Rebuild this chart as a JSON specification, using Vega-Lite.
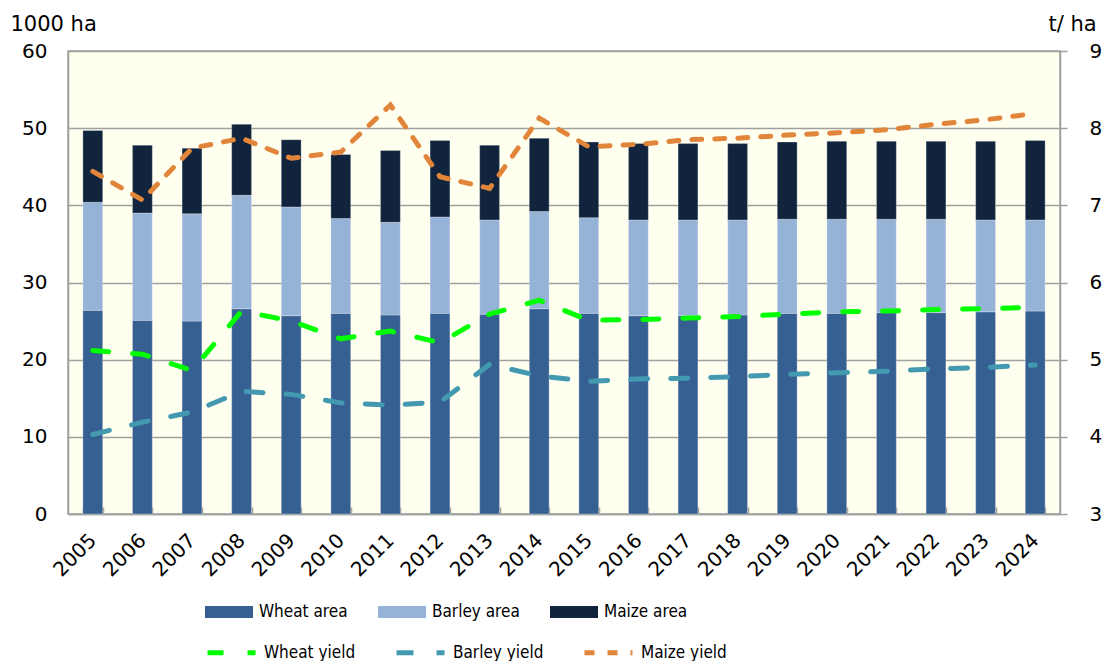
{
  "$schema": "https://vega.github.io/schema/vega-lite/v6.json",
  "width": 992,
  "height": 463,
  "autosize": {"type": "none"},
  "padding": {"left": 68, "top": 51, "right": 42, "bottom": 147},
  "background": "#FFFFFF",
  "config": {
    "view": {"fill": "#FFFFF0", "stroke": "#A0A0A0", "strokeWidth": 1.5},
    "font": "DejaVu Sans",
    "axis": {"labelFont": "DejaVu Sans", "titleFont": "DejaVu Sans", "labelFontSize": 20, "titleFontSize": 21, "labelColor": "#000000", "titleColor": "#000000", "titleFontWeight": "normal", "domainColor": "#A0A0A0", "domainWidth": 1.5, "tickColor": "#A0A0A0", "tickWidth": 1.5, "gridColor": "#A0A0A0", "gridWidth": 1.5},
    "legend": {"labelFont": "DejaVu Sans Condensed", "labelFontSize": 17, "labelColor": "#000000"}
  },
  "data": {
    "values": [
      {"year": "2005", "Wheat area": 26.4, "Barley area": 14.0, "Maize area": 9.3, "Wheat yield": 5.12, "Barley yield": 4.03, "Maize yield": 7.44},
      {"year": "2006", "Wheat area": 25.1, "Barley area": 13.9, "Maize area": 8.8, "Wheat yield": 5.07, "Barley yield": 4.19, "Maize yield": 7.07},
      {"year": "2007", "Wheat area": 25.0, "Barley area": 13.9, "Maize area": 8.5, "Wheat yield": 4.86, "Barley yield": 4.32, "Maize yield": 7.74},
      {"year": "2008", "Wheat area": 26.6, "Barley area": 14.7, "Maize area": 9.2, "Wheat yield": 5.63, "Barley yield": 4.59, "Maize yield": 7.87},
      {"year": "2009", "Wheat area": 25.7, "Barley area": 14.1, "Maize area": 8.7, "Wheat yield": 5.50, "Barley yield": 4.55, "Maize yield": 7.61},
      {"year": "2010", "Wheat area": 26.0, "Barley area": 12.3, "Maize area": 8.3, "Wheat yield": 5.27, "Barley yield": 4.44, "Maize yield": 7.69},
      {"year": "2011", "Wheat area": 25.8, "Barley area": 12.0, "Maize area": 9.3, "Wheat yield": 5.37, "Barley yield": 4.41, "Maize yield": 8.30},
      {"year": "2012", "Wheat area": 26.0, "Barley area": 12.5, "Maize area": 9.9, "Wheat yield": 5.22, "Barley yield": 4.45, "Maize yield": 7.37},
      {"year": "2013", "Wheat area": 25.9, "Barley area": 12.2, "Maize area": 9.7, "Wheat yield": 5.59, "Barley yield": 4.94, "Maize yield": 7.22},
      {"year": "2014", "Wheat area": 26.6, "Barley area": 12.6, "Maize area": 9.5, "Wheat yield": 5.77, "Barley yield": 4.79, "Maize yield": 8.13},
      {"year": "2015", "Wheat area": 26.0, "Barley area": 12.4, "Maize area": 9.8, "Wheat yield": 5.51, "Barley yield": 4.72, "Maize yield": 7.76},
      {"year": "2016", "Wheat area": 25.7, "Barley area": 12.4, "Maize area": 9.9, "Wheat yield": 5.52, "Barley yield": 4.75, "Maize yield": 7.79},
      {"year": "2017", "Wheat area": 25.7, "Barley area": 12.4, "Maize area": 9.9, "Wheat yield": 5.54, "Barley yield": 4.76, "Maize yield": 7.85},
      {"year": "2018", "Wheat area": 25.8, "Barley area": 12.3, "Maize area": 9.9, "Wheat yield": 5.56, "Barley yield": 4.78, "Maize yield": 7.87},
      {"year": "2019", "Wheat area": 26.0, "Barley area": 12.2, "Maize area": 10.0, "Wheat yield": 5.59, "Barley yield": 4.81, "Maize yield": 7.91},
      {"year": "2020", "Wheat area": 26.0, "Barley area": 12.2, "Maize area": 10.1, "Wheat yield": 5.62, "Barley yield": 4.83, "Maize yield": 7.94},
      {"year": "2021", "Wheat area": 26.1, "Barley area": 12.1, "Maize area": 10.1, "Wheat yield": 5.63, "Barley yield": 4.85, "Maize yield": 7.98},
      {"year": "2022", "Wheat area": 26.1, "Barley area": 12.1, "Maize area": 10.1, "Wheat yield": 5.65, "Barley yield": 4.88, "Maize yield": 8.05},
      {"year": "2023", "Wheat area": 26.2, "Barley area": 11.9, "Maize area": 10.2, "Wheat yield": 5.66, "Barley yield": 4.90, "Maize yield": 8.11},
      {"year": "2024", "Wheat area": 26.3, "Barley area": 11.8, "Maize area": 10.3, "Wheat yield": 5.68, "Barley yield": 4.93, "Maize yield": 8.19}
    ]
  },
  "encoding": {
    "x": {
      "field": "year", "type": "ordinal", "title": null,
      "scale": {"paddingInner": 0.6, "paddingOuter": 0.3},
      "axis": {"labelAngle": -45, "labelAlign": "right", "labelBaseline": "middle", "labelPadding": 30, "tickBand": "extent", "tickSize": -7, "ticks": true}
    }
  },
  "layer": [
    {
      "transform": [
        {"fold": ["Wheat area", "Barley area", "Maize area"], "as": ["series", "area"]},
        {"calculate": "indexof(['Wheat area', 'Barley area', 'Maize area'], datum.series)", "as": "stackOrder"}
      ],
      "mark": {"type": "bar", "stroke": "#FFFFFF", "strokeOpacity": 0.35, "strokeWidth": 0.8},
      "encoding": {
        "y": {
          "field": "area", "type": "quantitative", "stack": "zero",
          "scale": {"domain": [0, 60], "nice": false},
          "axis": {"values": [0, 10, 20, 30, 40, 50, 60], "grid": true, "ticks": false, "labelPadding": 21, "title": "1000 ha", "titleAngle": 0, "titleAlign": "left", "titleBaseline": "alphabetic", "titleX": -58, "titleY": -21}
        },
        "order": {"field": "stackOrder", "type": "quantitative", "sort": "ascending"},
        "color": {
          "field": "series", "type": "nominal",
          "sort": ["Wheat area", "Barley area", "Maize area"],
          "scale": {"domain": ["Wheat area", "Barley area", "Maize area"], "range": ["#376092", "#95B3D7", "#10243E"]},
          "legend": {"title": null, "orient": "none", "legendX": 137, "legendY": 537, "direction": "horizontal", "columns": 3, "columnPadding": 30, "symbolType": "M-1,-0.25H1V0.25H-1Z", "symbolSize": 2304, "symbolStrokeWidth": 0, "labelOffset": 6}
        }
      }
    },
    {
      "transform": [{"fold": ["Wheat yield", "Barley yield", "Maize yield"], "as": ["series", "yield"]}],
      "mark": {"type": "line", "strokeWidth": 5, "strokeCap": "round"},
      "encoding": {
        "y": {
          "field": "yield", "type": "quantitative",
          "scale": {"domain": [3, 9], "nice": false},
          "axis": {"orient": "right", "values": [3, 4, 5, 6, 7, 8, 9], "grid": false, "ticks": true, "tickSize": 7, "labelPadding": 22, "title": "t/ ha", "titleAngle": 0, "titleAlign": "left", "titleBaseline": "alphabetic", "titleX": -12, "titleY": -21}
        },
        "stroke": {
          "field": "series", "type": "nominal",
          "scale": {"domain": ["Wheat yield", "Barley yield", "Maize yield"], "range": ["#00FF00", "#4399B0", "#E0853A"]},
          "legend": {"title": null, "orient": "none", "legendX": 137, "legendY": 575, "direction": "horizontal", "columns": 3, "columnPadding": 30, "symbolType": "stroke", "symbolSize": 2304, "symbolStrokeWidth": 5, "labelOffset": 6}
        },
        "strokeDash": {
          "field": "series", "type": "nominal",
          "scale": {"domain": ["Wheat yield", "Barley yield", "Maize yield"], "range": [[16, 24], [17, 23], [10, 13]]},
          "legend": {"title": null, "orient": "none", "legendX": 137, "legendY": 575, "direction": "horizontal", "columns": 3, "columnPadding": 30, "symbolType": "stroke", "symbolSize": 2304, "symbolStrokeWidth": 5, "labelOffset": 6}
        }
      }
    }
  ],
  "resolve": {"scale": {"y": "independent"}}
}
